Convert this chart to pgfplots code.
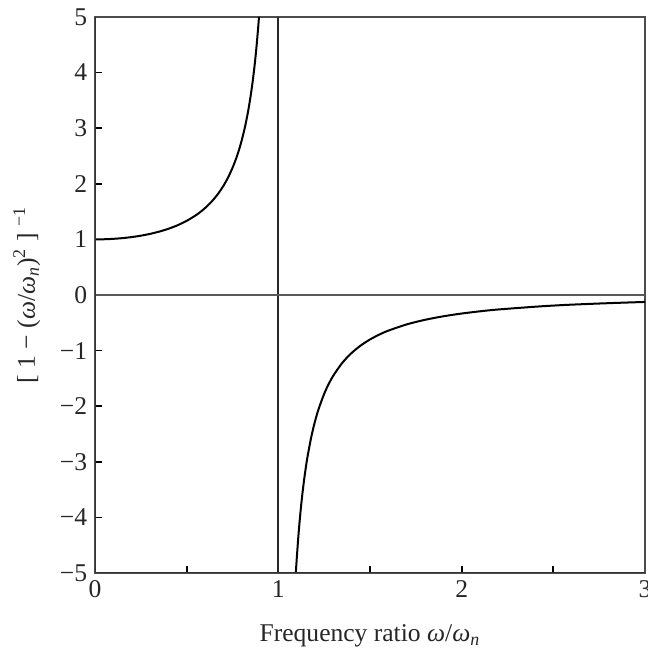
\documentclass[border=0pt]{standalone}
\usepackage{pgfplots}
\pgfplotsset{compat=1.18}
\usepackage{fontspec}
\setmainfont{Liberation Serif}
\begin{document}
\begin{tikzpicture}
\begin{axis}[
    at={(0,0)}, anchor=south west,
    scale only axis,
    width=247.5pt, height=250.2pt,
    xmin=0, xmax=3, ymin=-5, ymax=5,
    axis line style={black!70, line width=0.5pt},
    tick align=inside,
    xtick pos=bottom, ytick pos=left,
    major tick length=3pt,
    tick style={black, line width=0.8pt},
    xtick={0,0.5,1,1.5,2,2.5,3},
    xticklabels={0,,1,,2,,3},
    ytick={-5,-4,-3,-2,-1,0,1,2,3,4,5},
    yticklabels={−5,−4,−3,−2,−1,0,1,2,3,4,5},
    tick label style={font=\fontsize{11.5}{13}\selectfont, text=black!85},
    xlabel={Frequency ratio \textit{ω}/\textit{ω}\textsubscript{\textit{n}}},
    ylabel={[ 1 − (\textit{ω}/\textit{ω}\textsubscript{\textit{n}})\textsuperscript{2} ] \textsuperscript{−1}},
    label style={font=\fontsize{11.5}{13}\selectfont, text=black!85},
    xlabel style={yshift=-5pt},
    ylabel style={yshift=2pt},
    clip=true,
]
\addplot[black!85, line width=0.8pt] coordinates {(1,-5) (1,5)};
\addplot[black!65, line width=0.8pt] coordinates {(0,0) (3,0)};
\addplot[black, line width=0.9pt, smooth] coordinates {
    (0,1) (0.05,1.0025) (0.1,1.0101) (0.15,1.0230) (0.2,1.0417) (0.25,1.0667)
    (0.3,1.0989) (0.35,1.1396) (0.4,1.1905) (0.45,1.2539) (0.5,1.3333)
    (0.55,1.4337) (0.575,1.4939) (0.6,1.5625) (0.625,1.6410) (0.65,1.7316)
    (0.675,1.8370) (0.7,1.9608) (0.725,2.1080) (0.75,2.2857) (0.77,2.4564)
    (0.78,2.5536) (0.79,2.6603) (0.8,2.7778) (0.81,2.9078) (0.82,3.0525)
    (0.83,3.2144) (0.84,3.3967) (0.85,3.6036) (0.86,3.8402) (0.87,4.1136)
    (0.88,4.4326) (0.89,4.8100) (0.8944,5.0)
};
\addplot[black, line width=0.9pt, smooth] coordinates {
    (1.0954,-5.0) (1.1,-4.7619) (1.11,-4.3085) (1.12,-3.9308) (1.13,-3.6114)
    (1.14,-3.3378) (1.15,-3.1008) (1.16,-2.8935) (1.18,-2.5484) (1.2,-2.2727)
    (1.22,-2.0475) (1.25,-1.7778) (1.27,-1.6316) (1.3,-1.4493) (1.35,-1.2158)
    (1.4,-1.0417) (1.45,-0.9070) (1.5,-0.8) (1.55,-0.7130) (1.6,-0.6410)
    (1.7,-0.5291) (1.8,-0.4464) (1.9,-0.3831) (2.0,-0.3333) (2.1,-0.2933)
    (2.2,-0.2604) (2.4,-0.2110) (2.5,-0.1905) (2.6,-0.1736) (2.8,-0.1471)
    (3.0,-0.125)
};
\draw[black!80, line width=1.2pt] (rel axis cs:0,1) -- (rel axis cs:0,0) -- (rel axis cs:1,0);
\end{axis}
\pgfresetboundingbox
\useasboundingbox (-42.75pt,-35.55pt) rectangle (248.4pt,257.85pt);
\end{tikzpicture}
\end{document}
